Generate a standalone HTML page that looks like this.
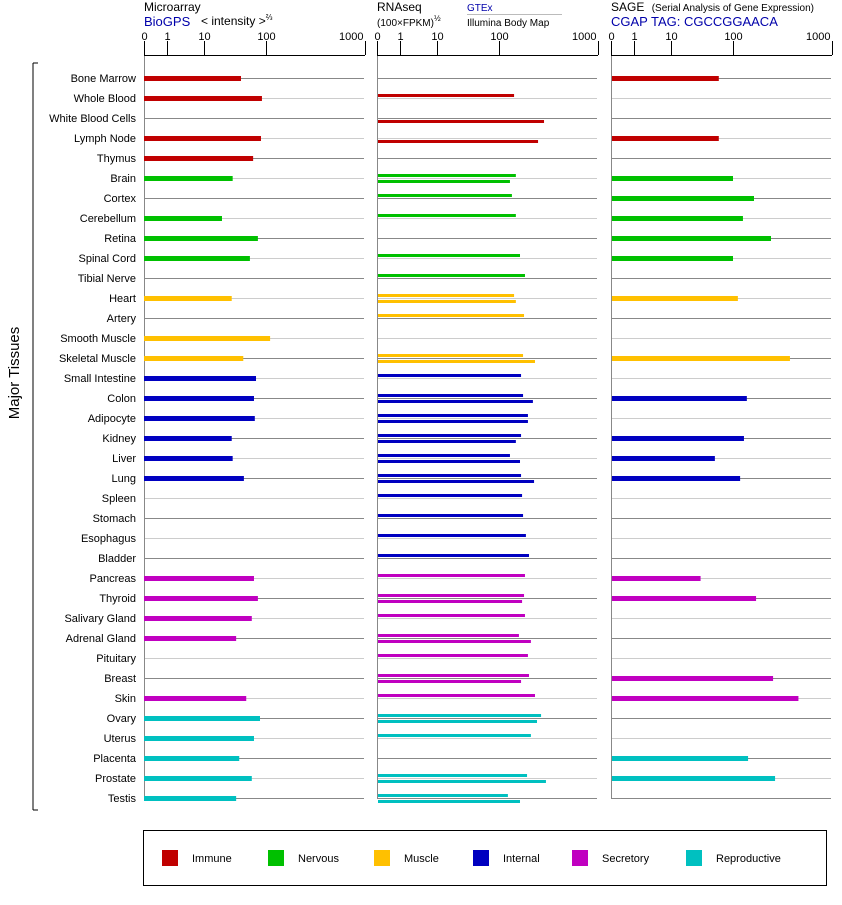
<!DOCTYPE html>
<html><head><meta charset="utf-8"><style>
body{margin:0;background:#fff;}
svg text{font-family:"Liberation Sans",sans-serif;}
</style></head><body>
<svg id="chart" width="842" height="900" xmlns="http://www.w3.org/2000/svg">
<g id="hdr" font-size="12">
<text x="144" y="11" fill="#000">Microarray</text>
<text x="144" y="26" fill="#00a" font-size="13">BioGPS</text>
<text x="201" y="25" fill="#000">&lt; intensity &gt;<tspan font-size="8" dy="-5">⅔</tspan></text>
<text x="377" y="11">RNAseq</text>
<text x="377" y="26" font-size="10">(100×FPKM)<tspan font-size="8" dy="-5">½</tspan></text>
<text x="467" y="11" font-size="10" fill="#00a">GTEx</text>
<line x1="467" y1="14.5" x2="562" y2="14.5" stroke="#bbb"/>
<text x="467" y="26" font-size="10">Illumina Body Map</text>
<text x="611" y="11">SAGE <tspan font-size="10" dx="4">(Serial Analysis of Gene Expression)</tspan></text>
<text x="611" y="26" font-size="13" fill="#00a">CGAP TAG: CGCCGGAACA</text>
</g>
<g id="plot"></g>
<line x1="33" y1="63" x2="33" y2="810" stroke="#000"/>
<line x1="33" y1="63" x2="38" y2="63" stroke="#000"/>
<line x1="33" y1="810" x2="38" y2="810" stroke="#000"/>
<text transform="translate(19,373) rotate(-90)" text-anchor="middle" font-size="15">Major Tissues</text>
<g id="legend"><rect x="143.5" y="830.5" width="683" height="55" fill="none" stroke="#000"/></g>
</svg>
<script>
const tissues=["Bone Marrow","Whole Blood","White Blood Cells","Lymph Node","Thymus","Brain","Cortex","Cerebellum","Retina","Spinal Cord","Tibial Nerve","Heart","Artery","Smooth Muscle","Skeletal Muscle","Small Intestine","Colon","Adipocyte","Kidney","Liver","Lung","Spleen","Stomach","Esophagus","Bladder","Pancreas","Thyroid","Salivary Gland","Adrenal Gland","Pituitary","Breast","Skin","Ovary","Uterus","Placenta","Prostate","Testis"];
const groups=[0,0,0,0,0,1,1,1,1,1,1,2,2,2,2,3,3,3,3,3,3,3,3,3,3,4,4,4,4,4,4,4,5,5,5,5,5];
const groupNames=["Immune","Nervous","Muscle","Internal","Secretory","Reproductive"];
const groupColors=["#c00000","#00c000","#ffc000","#0000c0","#c000c0","#00c0c0"];
const microarray=[39.5,86,0,83,62,29,0,19.5,74,55,0,28,0,110,43,69,64,66,28,29,44,0,0,0,0,64,74,59,33,0,0,48,80,64,37,59,33];
const gtex=[0,142,0,0,0,148,135,148,0,163,183,142,179,0,175,167,175,196,167,129,167,171,175,187,201,183,179,183,159,196,201,231,266,210,0,192,123];
const illumina=[0,0,285,248,0,129,0,0,0,0,0,148,0,0,231,0,220,196,148,163,226,0,0,0,0,0,171,0,210,0,167,0,242,0,0,298,163];
const sage=[59,0,0,59,0,100,163,126,242,100,0,112,0,0,376,0,138,0,129,51,118,0,0,0,0,30,171,0,0,0,254,458,0,0,142,266,0];
const tickVals=[0,1,10,100,1000];
const tickLabels=["0","1","10","100","1000"];
const tickOffsets=[0,23,60,122,221];
const panels=[{x:144,name:"microarray"},{x:377,name:"rnaseq"},{x:611,name:"sage"}];
const NS="http://www.w3.org/2000/svg";
const plot=document.getElementById('plot');
function mk(t,a,p){const e=document.createElementNS(NS,t);for(const k in a)e.setAttribute(k,a[k]);(p||plot).appendChild(e);return e;}
function xs(p,v){
  const x0=panels[p].x;
  if(v<=0)return x0;
  if(v<=1)return x0+tickOffsets[1]*v;
  const l=Math.log10(v);let i=Math.min(Math.floor(l),2);
  return x0+tickOffsets[i+1]+(tickOffsets[i+2]-tickOffsets[i+1])*(l-i);
}
function ys(i){return 78+i*20;}
const W=221;
panels.forEach((pn,p)=>{
  tissues.forEach((t,i)=>{
    const l=mk('line',{x1:pn.x,x2:pn.x+220,y1:ys(i)+0.5,y2:ys(i)+0.5,stroke:i%2?'#cccccc':'#888888'});
    
    
  });
  const ax=mk('line',{x1:pn.x+0.5,x2:pn.x+0.5,y1:55,y2:798,stroke:'#888'});
  
  
  const top=mk('line',{x1:pn.x,x2:pn.x+W,y1:55.5,y2:55.5,stroke:'#000'});
  
  
  tickVals.forEach((v,k)=>{
    const x=Math.round(xs(p,v))+0.5;
    const tk=mk('line',{x1:x,x2:x,y1:41,y2:55,stroke:'#000'});
    
    
    const tx=mk('text',{x:k==4?x-2:(k==0?x-3:x),y:40,'font-size':11,'text-anchor':k==0?'start':(k==4?'end':'middle')});
    tx.textContent=tickLabels[k];
    
    
  });
});
tissues.forEach((t,i)=>{
  const tx=mk('text',{x:136,y:ys(i)+4,'font-size':11,'text-anchor':'end'});
  tx.textContent=t;
  
  
  const c=groupColors[groups[i]];
  if(microarray[i]>0){const r=mk('rect',{x:144,y:ys(i)-2,width:xs(0,microarray[i])-144,height:5,fill:c});
    
    }
  if(gtex[i]>0){const r=mk('rect',{x:378,y:ys(i)-4,width:xs(1,gtex[i])-378,height:3,fill:c});
    
    }
  if(illumina[i]>0){const r=mk('rect',{x:378,y:ys(i)+2,width:xs(1,illumina[i])-378,height:3,fill:c});
    
    }
  if(sage[i]>0){const r=mk('rect',{x:612,y:ys(i)-2,width:xs(2,sage[i])-612,height:5,fill:c});
    
    }
});
const lg=document.getElementById('legend');
const legX=[162,268,374,473,572,686];
groupNames.forEach((g,k)=>{
  const r=mk('rect',{x:legX[k],y:850,width:16,height:16,fill:groupColors[k]},lg);
  
  
  const t=mk('text',{x:legX[k]+30,y:862,'font-size':11},lg);
  t.textContent=g;
  
  
});
</script>
</body></html>
